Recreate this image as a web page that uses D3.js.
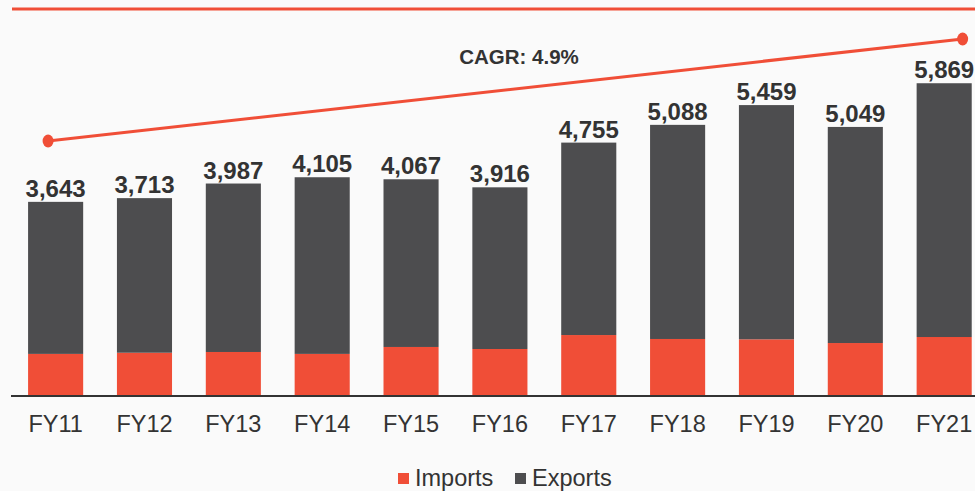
<!DOCTYPE html>
<head>
<meta charset="utf-8">
<title>Imports and Exports</title>
<script src="https://d3js.org/d3.v7.min.js"></script>
<style>
  body { margin: 0; background: #fafafa; }
  svg { display: block; font-family: "Liberation Sans", Arial, sans-serif; }
</style>
</head>
<body>
<div id="chart"></div>
<script>
    // data
    var years = ["FY11", "FY12", "FY13", "FY14", "FY15", "FY16", "FY17", "FY18", "FY19", "FY20", "FY21"];
    var totals = [3643, 3713, 3987, 4105, 4067, 3916, 4755, 5088, 5459, 5049, 5869];
    var imports = [790, 812, 826, 790, 920, 882, 1144, 1070, 1064, 994, 1107];
    var cagrLabel = "CAGR: 4.9%";
    var cagrEnds = [4785, 6699]; // level of the growth line at FY11 and FY21
    var seriesNames = ["Imports", "Exports"];

    var width = 975, height = 491;
    var red = "#f04e37", dark = "#4d4d4f", ink = "#333333";

    var data = years.map(function(y, i) {
      return { year: y, Imports: imports[i], Exports: totals[i] - imports[i], total: totals[i] };
    });

    var svg = d3.select("#chart")
      .append("svg")
        .attr("width", width)
        .attr("height", height);

    var xScale = d3.scaleBand().domain(years).range([11.2, 988.6])
        .paddingInner(0.38).paddingOuter(0.19);
    var yScale = d3.scaleLinear().domain([0, 7431]).range([396, 0]);
    var color = d3.scaleOrdinal().domain(seriesNames).range([red, dark]);

    // top rule
    svg.append("line")
      .attr("x1", 12).attr("x2", width)
      .attr("y1", 9).attr("y2", 9)
      .attr("stroke", red).attr("stroke-width", 3);

    var stacked = d3.stack().keys(seriesNames)(data);

    svg.append("g")
      .selectAll("g")
      .data(stacked)
      .enter().append("g")
        .attr("fill", function(d) { return color(d.key); })
        .selectAll("rect")
        .data(function(d) { return d; })
        .enter().append("rect")
          .attr("x", function(d) { return xScale(d.data.year); })
          .attr("y", function(d) { return yScale(d[1]); })
          .attr("height", function(d) { return yScale(d[0]) - yScale(d[1]); })
          .attr("width", xScale.bandwidth());

    // x axis
    var xAxis = svg.append("g")
      .attr("transform", "translate(0,396)")
      .call(d3.axisBottom(xScale).tickSize(0).tickPadding(19));
    xAxis.select(".domain").remove();
    xAxis.append("line")
      .attr("x1", 11).attr("x2", width)
      .attr("stroke", ink).attr("stroke-width", 2);
    xAxis.selectAll("text")
      .attr("font-size", "23.5px")
      .attr("font-family", "Liberation Sans, Arial, sans-serif")
      .attr("fill", ink);

    // totals
    svg.append("g")
      .selectAll("text")
      .data(data)
      .enter().append("text")
        .attr("x", function(d) { return xScale(d.year) + xScale.bandwidth() / 2; })
        .attr("y", function(d) { return yScale(d.total) - 5; })
        .attr("text-anchor", "middle")
        .attr("font-size", "24px")
        .attr("font-weight", "bold")
        .attr("fill", ink)
        .text(function(d) { return d3.format(",")(d.total); });

    // growth line
    var gx0 = xScale(years[0]) + 20, gx1 = xScale(years[years.length - 1]) + 46;
    svg.append("line")
      .attr("x1", gx0).attr("y1", yScale(cagrEnds[0]))
      .attr("x2", gx1).attr("y2", yScale(cagrEnds[1]))
      .attr("stroke", red).attr("stroke-width", 3);
    svg.selectAll(".dot")
      .data([[gx0, cagrEnds[0]], [gx1, cagrEnds[1]]])
      .enter().append("ellipse")
        .attr("cx", function(d) { return d[0]; })
        .attr("cy", function(d) { return yScale(d[1]); })
        .attr("rx", 5.5).attr("ry", 6.5)
        .attr("fill", red);
    svg.append("text")
      .attr("x", 519).attr("y", 64)
      .attr("text-anchor", "middle")
      .attr("font-size", "20.5px")
      .attr("font-weight", "bold")
      .attr("fill", ink)
      .text(cagrLabel);

    // legend
    var legend = svg.append("g").attr("transform", "translate(398,486)");
    var lx = [0, 117];
    seriesNames.forEach(function(name, i) {
      legend.append("rect")
        .attr("x", lx[i]).attr("y", -13)
        .attr("width", 11).attr("height", 11)
        .attr("fill", color(name));
      legend.append("text")
        .attr("x", lx[i] + 17).attr("y", 0)
        .attr("font-size", "23.5px")
        .attr("fill", ink)
        .text(name);
    });
</script>
</body>
